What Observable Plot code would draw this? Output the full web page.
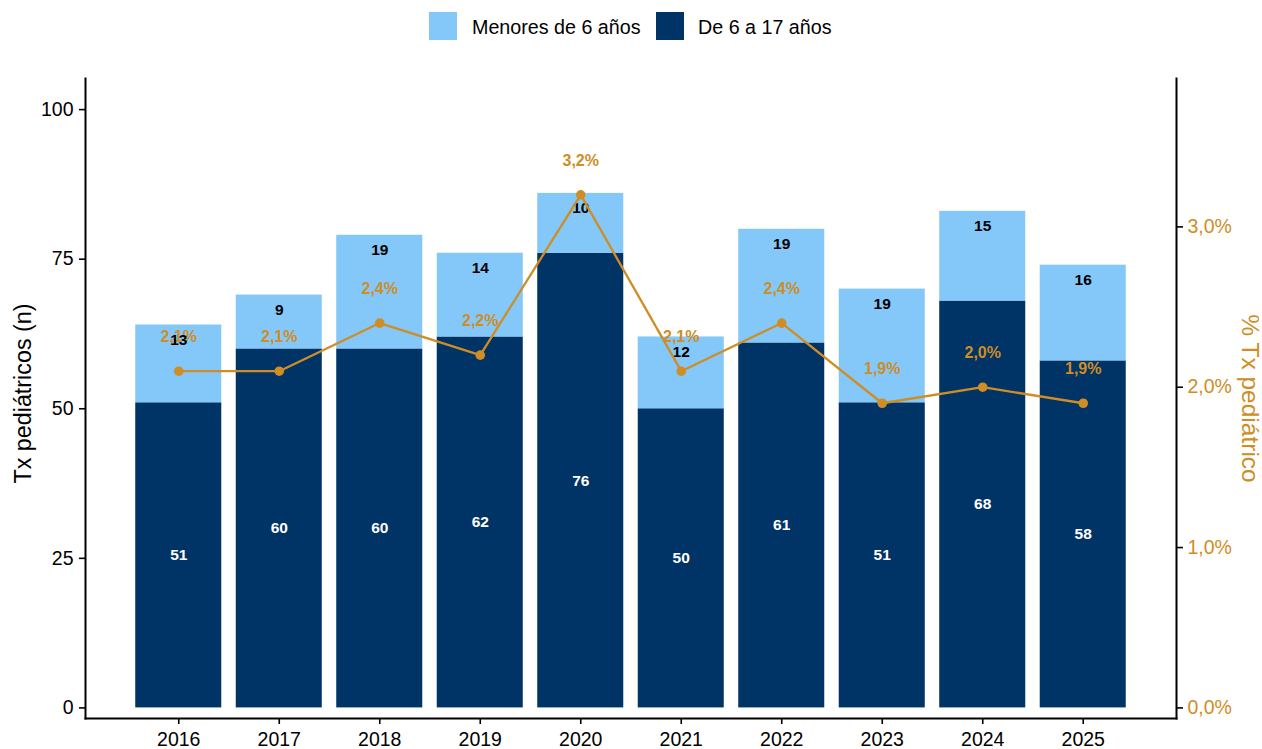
<!DOCTYPE html>
<html>
<head>
<meta charset="utf-8">
<script src="https://cdn.jsdelivr.net/npm/d3@7"></script>
<script src="https://cdn.jsdelivr.net/npm/@observablehq/plot@0.6"></script>
<style>
  html, body { margin: 0; padding: 0; background: #fff; }
  body { font-family: "Liberation Sans", Arial, sans-serif; }
  #wrap { position: relative; width: 1262px; height: 749px; }
  #legend { position: absolute; left: 0; top: 0; width: 1262px; height: 50px; }
  .sw { position: absolute; top: 12px; width: 28px; height: 28px; }
  .lt { position: absolute; top: 13px; font-size: 19.7px; line-height: 28px; color: #000; white-space: nowrap; }
  #chart { position: absolute; left: 0; top: 50px; }
  #chart svg { overflow: visible; }
</style>
</head>
<body>
<div id="wrap">
  <div id="legend"></div>
  <div id="chart"></div>
</div>
<script>
const years = ["2016","2017","2018","2019","2020","2021","2022","2023","2024","2025"];
const menores6 = [13, 9, 19, 14, 10, 12, 19, 19, 15, 16];
const de6a17 = [51, 60, 60, 62, 76, 50, 61, 51, 68, 58];
const pctPediatrico = [2.1, 2.1, 2.4, 2.2, 3.2, 2.1, 2.4, 1.9, 2.0, 1.9];
const leftTicks = [0, 25, 50, 75, 100];
const rightTicks = [0, 1, 2, 3];
const seriesNames = ["Menores de 6 años", "De 6 a 17 años"];

const lightBlue = "#83C8F9";
const navy = "#003366";
const orange = "#CF8D24";
const K = 26.8; // secondary-axis factor (n per 1%)

const rows = years.map((y, i) => ({
  year: y,
  dark: de6a17[i],
  light: menores6[i],
  total: de6a17[i] + menores6[i],
  pct: pctPediatrico[i],
  pctY: pctPediatrico[i] * K
}));

const fmtPct = v => v.toFixed(1).replace(".", ",") + "%";

// Legend (HTML above the SVG)
const legend = document.getElementById("legend");
const items = [
  {name: seriesNames[0], color: lightBlue, sx: 429, tx: 472},
  {name: seriesNames[1], color: navy, sx: 656, tx: 698}
];
for (const it of items) {
  const s = document.createElement("div");
  s.className = "sw"; s.style.left = it.sx + "px"; s.style.background = it.color;
  legend.appendChild(s);
  const t = document.createElement("div");
  t.className = "lt"; t.style.left = it.tx + "px"; t.textContent = it.name;
  legend.appendChild(t);
}

const font = "'Liberation Sans', Arial, sans-serif";

const plot = Plot.plot({
  width: 1262,
  height: 699,
  marginLeft: 85,
  marginRight: 86,
  marginTop: 28,
  marginBottom: 31,
  style: {fontFamily: font, background: "transparent", overflow: "visible"},
  x: {domain: years, paddingInner: 0.144, paddingOuter: 0.5, round: false, label: null},
  y: {domain: [-1.77, 105.2], label: null},
  marks: [
    Plot.barY(rows, {x: "year", y1: 0, y2: "dark", fill: navy}),
    Plot.barY(rows, {x: "year", y1: "dark", y2: "total", fill: lightBlue}),
    Plot.text(rows, {x: "year", y: "pctY", text: d => fmtPct(d.pct), dy: -34, fill: orange, fontWeight: "bold", fontSize: 16}),
    Plot.text(rows, {x: "year", y: d => d.dark / 2, text: "dark", fill: "white", fontWeight: "bold", fontSize: 15.5}),
    Plot.text(rows, {x: "year", y: "total", text: "light", dy: 15, fill: "black", fontWeight: "bold", fontSize: 15.5}),
    Plot.line(rows, {x: "year", y: "pctY", stroke: orange, strokeWidth: 2.3}),
    Plot.dot(rows, {x: "year", y: "pctY", r: 4.8, fill: orange, stroke: "none"}),
    Plot.frame({anchor: "left", stroke: "black", strokeWidth: 2}),
    Plot.frame({anchor: "right", stroke: "black", strokeWidth: 2}),
    Plot.frame({anchor: "bottom", stroke: "black", strokeWidth: 2}),
    Plot.axisY(leftTicks, {anchor: "left", tickSize: 6, tickPadding: 6, fontSize: 19.5, stroke: "black", fill: "black", strokeWidth: 1.6, label: null, tickFormat: d => String(d)}),
    Plot.axisY(rightTicks.map(p => p * K), {anchor: "right", tickSize: 6, tickPadding: 5, fontSize: 19.5, stroke: "black", fill: orange, strokeWidth: 1.6, label: null, tickFormat: d => fmtPct(d / K)}),
    Plot.axisX({anchor: "bottom", tickSize: 6, tickPadding: 8, fontSize: 19.5, stroke: "black", fill: "black", strokeWidth: 1.6, label: null}),
    Plot.text(["Tx pediátricos (n)"], {frameAnchor: "left", textAnchor: "middle", dx: -62, dy: -5, rotate: -90, fontSize: 23.3, fill: "black"}),
    Plot.text(["% Tx pediátrico"], {frameAnchor: "right", textAnchor: "middle", dx: 73, rotate: 90, fontSize: 24.5, fill: orange})
  ]
});
document.getElementById("chart").appendChild(plot);
</script>
</body>
</html>
